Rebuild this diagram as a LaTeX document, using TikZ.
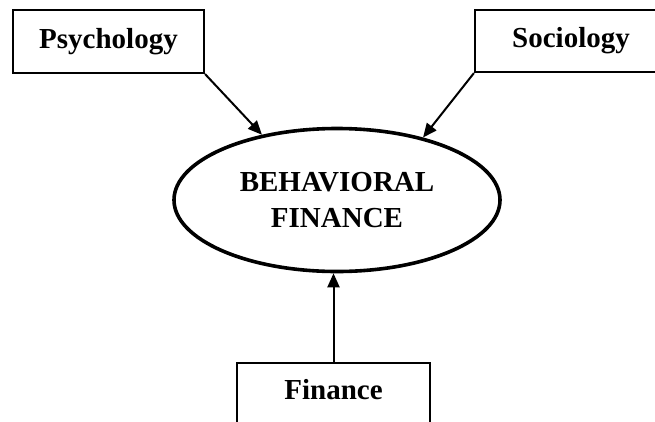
\documentclass[tikz,border=0pt]{standalone}
\usepackage{fontspec}
\setmainfont{Liberation Serif}
\usetikzlibrary{shapes.geometric,arrows.meta}
\begin{document}
\begin{tikzpicture}[x=1pt,y=-1pt,
 box/.style={draw,line width=2.2pt,rectangle,inner sep=0pt,font=\fontsize{29}{36}\selectfont\bfseries},
 oval/.style={draw,line width=3.6pt,ellipse,inner sep=0pt,minimum width=326pt,minimum height=143pt,align=center,font=\fontsize{29}{36}\selectfont\bfseries},
 conn/.style={line width=2pt,-{Triangle[length=14pt,width=12pt]}}]
\fill[white] (0,0) rectangle (655,421);
\useasboundingbox (0,0) rectangle (655,421);
\clip (0,0) rectangle (655,421);
\node[box,minimum width=191pt,minimum height=63pt] (psy) at (108.5,41.5) {Psychology};
\node[box,minimum width=192pt,minimum height=62pt] (soc) at (571,41) {Sociology};
\node[oval] (bf) at (337,200) {BEHAVIORAL\\FINANCE};
\node[box,anchor=north,minimum width=193pt,minimum height=90pt,text depth=38pt] (fin) at (333.5,362) {Finance};
\draw[conn] (psy.south east) -- (bf.139.5);
\draw[conn] (soc.south west) -- (bf.36);
\draw[conn] (fin.north) -- (fin.north |- bf.south);
\end{tikzpicture}
\end{document}
